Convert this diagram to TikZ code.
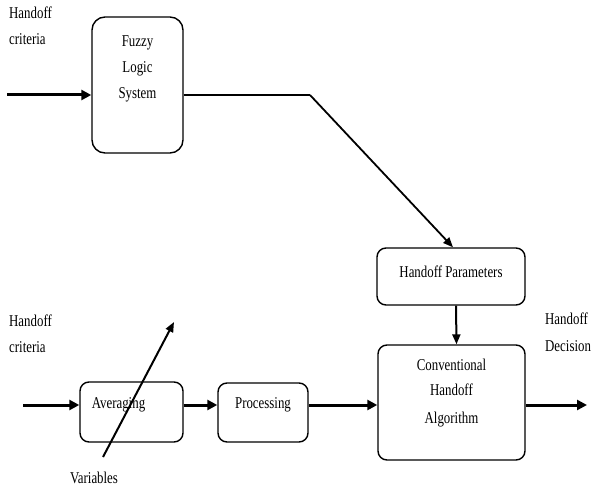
\documentclass[tikz,border=0pt]{standalone}
\usepackage{fontspec}
\setmainfont{Liberation Serif}[FakeStretch=0.78]
\usetikzlibrary{arrows.meta}
\begin{document}
\begin{tikzpicture}[x=1pt,y=-1pt,
  every node/.style={font=\fontsize{16.5}{26}\selectfont, inner sep=0pt},
  blk/.style={draw, line width=1.4pt, rounded corners=9pt},
  lbl/.style={align=left, anchor=north west},
  thin/.style={line width=1.3pt},
  thk/.style={line width=3pt, -{Triangle[length=10pt,width=10pt]}},
  mid/.style={line width=2pt, -{Triangle[length=10pt,width=8pt]}}]
\useasboundingbox (0,0) rectangle (592,495);
% boxes
\node[blk, rounded corners=13pt, minimum width=91pt, minimum height=136pt] (fls) at (137.5,85) {};
\node[align=center] (flst) at (137.5,69) {Fuzzy\\Logic\\System};
\node[blk, minimum width=148pt, minimum height=57pt] (hp) at (451,276.5) {};
\node (hpt) at (451,272) {Handoff Parameters};
\node[blk, minimum width=147pt, minimum height=115pt] (cha) at (451.5,402.5) {};
\node[align=center, font=\fontsize{16.5}{25}\selectfont] (chat) at (451.5,393) {Conventional\\Handoff\\[3pt]Algorithm};
\node[blk, minimum width=103pt, minimum height=60pt] (avg) at (131.5,412) {};
\node (avgt) at (118.5,405) {Averaging};
\node[blk, minimum width=90pt, minimum height=59pt] (proc) at (263,412.5) {};
\node (proct) at (263,405) {Processing};
% labels
\node[lbl] (l1) at (9,7) {Handoff\\criteria};
\node[lbl] (l2) at (9,315) {Handoff\\criteria};
\node[lbl, font=\fontsize{16.5}{27}\selectfont] (l3) at (545,313) {Handoff\\Decision};
\node (var) at (94,478) {Variables};
% coordinates
\coordinate (inT) at (7,95);
\coordinate (bend) at (310,95);
\coordinate (inL) at (23,405);
\coordinate (outR) at (587,405);
\coordinate (vs) at (103,457);
\coordinate (ve) at (174,322);
% connectors
\draw[thk] (inT) -- (inT -| fls.west);
\draw[thin] (fls.east |- inT) -- (bend);
\draw[line width=1.8pt, -{Triangle[length=10pt,width=8pt]}] (bend) -- ([xshift=2pt]hp.north);
\draw[mid] ([xshift=5pt]hp.south) -- ([xshift=5pt]cha.north);
\draw[thk] (inL) -- (inL -| avg.west);
\draw[thk] (avg.east |- inL) -- (proc.west |- inL);
\draw[thk] (proc.east |- inL) -- (cha.west |- inL);
\draw[thk] (cha.east |- inL) -- (outR);
\draw[mid] (vs) -- (ve);
\end{tikzpicture}
\end{document}
